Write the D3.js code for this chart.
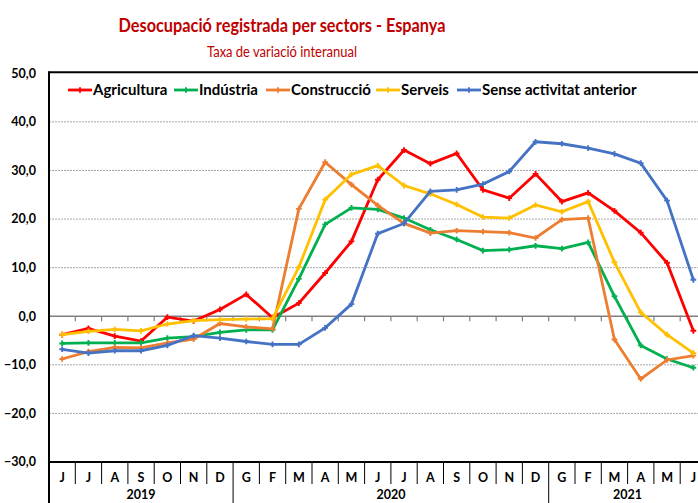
<!DOCTYPE html>
<html>
<head>
<meta charset="utf-8">
<script src="https://cdn.jsdelivr.net/npm/d3@7"></script>
<style>
	body { margin: 0; background: #fff; }
	svg { display: block; font-family: Lato, "Open Sans", sans-serif; }
</style>
</head>
<body>
<div id="chart"></div>
<script>
// months Jun 2019 - Jun 2021
var months = ["J","J","A","S","O","N","D","G","F","M","A","M","J","J","A","S","O","N","D","G","F","M","A","M","J"];
var years = [{label: "2019", from: 0, to: 7}, {label: "2020", from: 7, to: 19}, {label: "2021", from: 19, to: 25}];
var yTicks = [-30, -20, -10, 0, 10, 20, 30, 40, 50];

var agricultura = [-3.8, -2.5, -4.1, -5.1, -0.2, -1.0, 1.4, 4.5, -0.3, 2.7, 8.9, 15.4, 28.1, 34.2, 31.4, 33.5, 26.0, 24.3, 29.3, 23.6, 25.4, 21.7, 17.2, 11.0, -3.0];
var industria = [-5.6, -5.5, -5.5, -5.5, -4.5, -4.2, -3.3, -2.8, -2.8, 7.7, 18.9, 22.3, 22.0, 20.2, 17.8, 15.8, 13.5, 13.7, 14.5, 13.9, 15.2, 4.1, -6.0, -8.8, -10.6];
var construccio = [-8.8, -7.3, -6.4, -6.5, -5.5, -4.7, -1.5, -2.2, -2.6, 22.1, 31.7, 27.1, 22.8, 19.1, 17.1, 17.6, 17.4, 17.2, 16.1, 19.9, 20.2, -4.8, -12.9, -9.0, -8.1];
var serveis = [-3.8, -3.1, -2.7, -3.0, -1.6, -0.9, -0.7, -0.6, -0.5, 10.1, 24.0, 29.2, 31.0, 26.9, 25.2, 23.0, 20.4, 20.2, 22.9, 21.5, 23.6, 11.1, 0.8, -3.8, -7.6];
var senseActivitat = [-6.8, -7.6, -7.1, -7.1, -6.0, -4.0, -4.5, -5.2, -5.8, -5.8, -2.4, 2.5, 17.0, 19.1, 25.7, 26.0, 27.2, 29.8, 35.9, 35.5, 34.6, 33.4, 31.5, 23.8, 7.5];

var series = [
	{name: "Agricultura", color: "#FF0000", values: agricultura},
	{name: "Indústria", color: "#00B050", values: industria},
	{name: "Construcció", color: "#ED7D31", values: construccio},
	{name: "Serveis", color: "#FFC000", values: serveis},
	{name: "Sense activitat anterior", color: "#4472C4", values: senseActivitat}
];

var width = 698, height = 503;
var plotLeft = 49, plotRight = 706.5, plotTop = 73.3, plotBottom = 462;

var svg = d3.select("#chart").append("svg").attr("width", width).attr("height", height);

var x = d3.scaleBand().domain(d3.range(months.length)).range([plotLeft, plotRight]);
var y = d3.scaleLinear().domain([-30, 50]).range([plotBottom, plotTop]);
var fmt = function(v) { return d3.format(".1f")(v).replace(".", ","); };

//  Titles
svg.append("text").attr("x", 282).attr("y", 32).attr("text-anchor", "middle")
	.style("font-size", "19.5px").style("font-weight", "bold").attr("fill", "#C00000")
	.attr("textLength", 327).attr("lengthAdjust", "spacingAndGlyphs")
	.text("Desocupació registrada per sectors - Espanya");
svg.append("text").attr("x", 282).attr("y", 57).attr("text-anchor", "middle")
	.style("font-size", "15.5px").attr("fill", "#C00000")
	.attr("textLength", 150).attr("lengthAdjust", "spacingAndGlyphs")
	.text("Taxa de variació interanual");

//  Gridlines
svg.append("g").selectAll("line").data(yTicks.filter(function(d) { return d !== 0 && d !== -30 && d !== 50; }))
	.enter().append("line")
	.attr("x1", plotLeft).attr("x2", plotRight)
	.attr("y1", function(d) { return y(d); }).attr("y2", function(d) { return y(d); })
	.attr("stroke", "#A6A6A6").attr("stroke-width", 1).attr("stroke-dasharray", "2,1");

//  Y axis labels
svg.append("g").selectAll("text").data(yTicks).enter().append("text")
	.attr("x", 36).attr("y", function(d) { return y(d); }).attr("dy", "0.35em")
	.attr("text-anchor", "end").style("font-size", "12.5px").style("font-weight", "bold")
	.text(fmt);

//  Zero line with small ticks
svg.append("line").attr("x1", plotLeft).attr("x2", plotRight)
	.attr("y1", y(0)).attr("y2", y(0)).attr("stroke", "#7F7F7F").attr("stroke-width", 1.6);
svg.append("g").selectAll("line").data(d3.range(1, months.length + 1)).enter().append("line")
	.attr("x1", function(i) { return plotLeft + i * x.step(); })
	.attr("x2", function(i) { return plotLeft + i * x.step(); })
	.attr("y1", y(0)).attr("y2", y(0) + 5)
	.attr("stroke", "#7F7F7F").attr("stroke-width", 1.2);

//  Frame: top, left, bottom
svg.append("line").attr("x1", plotLeft).attr("x2", plotRight).attr("y1", plotTop - 1).attr("y2", plotTop - 1)
	.attr("stroke", "#000").attr("stroke-width", 2);
svg.append("line").attr("x1", plotLeft).attr("x2", plotLeft).attr("y1", plotTop - 2).attr("y2", height)
	.attr("stroke", "#000").attr("stroke-width", 2);
svg.append("line").attr("x1", plotLeft).attr("x2", plotRight).attr("y1", plotBottom).attr("y2", plotBottom)
	.attr("stroke", "#000").attr("stroke-width", 2);

//  Category axis: month separators and labels
svg.append("g").selectAll("line").data(d3.range(1, months.length)).enter().append("line")
	.attr("x1", function(i) { return plotLeft + i * x.step(); })
	.attr("x2", function(i) { return plotLeft + i * x.step(); })
	.attr("y1", plotBottom).attr("y2", function(i) {
		return years.some(function(yr) { return yr.from === i; }) ? height : plotBottom + 22; })
	.attr("stroke", "#000").attr("stroke-width", 1);
svg.append("g").selectAll("text").data(months).enter().append("text")
	.attr("x", function(d, i) { return x(i) + x.bandwidth() / 2; })
	.attr("y", 478).attr("dy", "0.35em").attr("text-anchor", "middle")
	.style("font-size", "12.5px").style("font-weight", "bold").text(function(d) { return d; });
svg.append("g").selectAll("text").data(years).enter().append("text")
	.attr("x", function(d) { return (x(d.from) + plotLeft + d.to * x.step()) / 2; })
	.attr("y", 495).attr("dy", "0.35em").attr("text-anchor", "middle")
	.style("font-size", "12.5px").style("font-weight", "bold").text(function(d) { return d.label; });

//  Lines
var line = d3.line().x(function(d, i) { return x(i) + x.bandwidth() / 2; }).y(function(d) { return y(d); });
var marker = d3.symbol().type(d3.symbolCross).size(18);

var lines = svg.append("g").selectAll("g").data(series).enter().append("g");
lines.append("path").attr("d", function(s) { return line(s.values); })
	.attr("fill", "none").attr("stroke", function(s) { return s.color; })
	.attr("stroke-width", 2.8).attr("stroke-linejoin", "miter");
lines.selectAll("path.pt").data(function(s) { return s.values.map(function(v) { return {v: v, c: s.color}; }); })
	.enter().append("path").attr("class", "pt")
	.attr("transform", function(d, i) { return "translate(" + (x(i) + x.bandwidth() / 2) + "," + y(d.v) + ")"; })
	.attr("d", marker).attr("fill", function(d) { return d.c; });

//  Legend (item start positions follow the original layout)
var legendX = [68, 174, 266, 376, 457];
var legend = svg.append("g").attr("transform", "translate(0,90)");
series.forEach(function(s, i) {
	var item = legend.append("g").attr("transform", "translate(" + legendX[i] + ",0)");
	item.append("line").attr("x1", 0).attr("x2", 24).attr("stroke", s.color).attr("stroke-width", 2.8);
	item.append("path").attr("d", marker).attr("transform", "translate(12,0)").attr("fill", s.color);
	item.append("text").attr("x", 25).attr("dy", "0.35em")
		.style("font-size", "15px").style("font-weight", "bold").text(s.name);
});
</script>
</body>
</html>
